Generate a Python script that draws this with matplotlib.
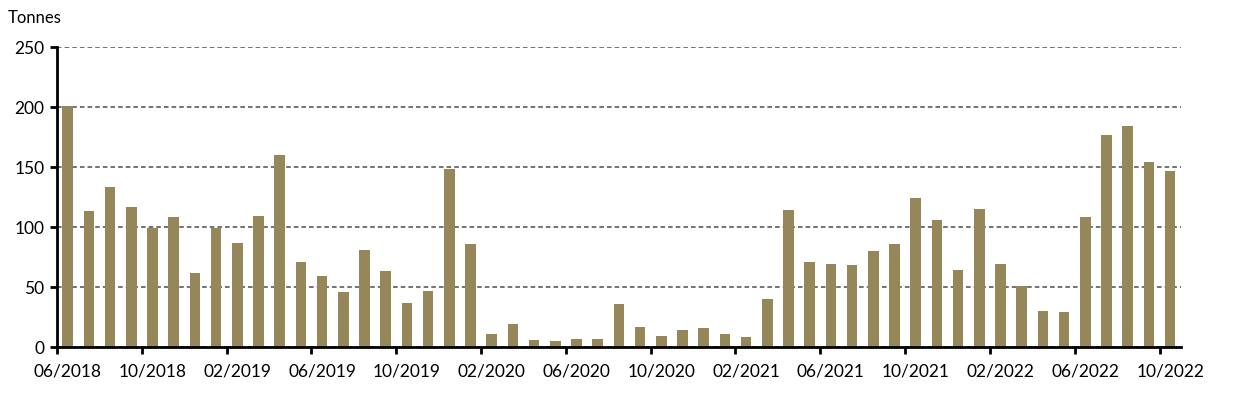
import matplotlib
matplotlib.use('Agg')
import matplotlib.pyplot as plt
import numpy as np

plt.rcParams['font.family'] = ['Lato', 'DejaVu Sans']

# monthly volumes, 06/2018 .. 10/2022
months = ["06/2018", "07/2018", "08/2018", "09/2018", "10/2018", "11/2018", "12/2018",
          "01/2019", "02/2019", "03/2019", "04/2019", "05/2019", "06/2019", "07/2019",
          "08/2019", "09/2019", "10/2019", "11/2019", "12/2019", "01/2020", "02/2020",
          "03/2020", "04/2020", "05/2020", "06/2020", "07/2020", "08/2020", "09/2020",
          "10/2020", "11/2020", "12/2020", "01/2021", "02/2021", "03/2021", "04/2021",
          "05/2021", "06/2021", "07/2021", "08/2021", "09/2021", "10/2021", "11/2021",
          "12/2021", "01/2022", "02/2022", "03/2022", "04/2022", "05/2022", "06/2022",
          "07/2022", "08/2022", "09/2022", "10/2022"]
tonnes = [201, 113, 133, 117, 99, 108, 62, 99, 87, 109, 160, 71, 59, 46, 81, 63, 37,
          47, 148, 86, 11, 19, 6, 5, 7, 7, 36, 17, 9, 14, 16, 11, 8, 40, 114, 71,
          69, 68, 80, 86, 124, 106, 64, 115, 69, 51, 30, 29, 108, 177, 184, 154, 147]
y_ticks = [0, 50, 100, 150, 200, 250]

fig = plt.figure(figsize=(12.43, 4.19), dpi=100)
ax = fig.add_axes([0.0459, 0.1718, 0.904, 0.716])

x = np.arange(len(months))
ax.bar(x, tonnes, width=0.5, color="#96875a", zorder=3)

ax.set_xlim(-0.5, len(months) - 0.5)
ax.set_ylim(0, 250)
ax.set_yticks(y_ticks)
ax.yaxis.grid(True, linestyle=(0, (3, 2)), color="#4d4d4d", linewidth=1.1, zorder=0)

# labels on category centres (major), tick marks on category boundaries (minor)
label_idx = x[::4]
ax.set_xticks(label_idx)
ax.set_xticklabels([months[i] for i in label_idx])
ax.set_xticks(label_idx - 0.5, minor=True)
ax.tick_params(axis="x", which="major", length=0, pad=12, labelsize=12.5)
ax.tick_params(axis="x", which="minor", length=5, width=2, direction="out")
ax.tick_params(axis="y", length=5, width=2, direction="out", labelsize=12.5, pad=4)

for side in ["top", "right"]:
    ax.spines[side].set_visible(False)
ax.spines["left"].set_linewidth(2)
ax.spines["bottom"].set_linewidth(2)
ax.spines["bottom"].set_zorder(4)

fig.text(0.006, 0.957, "Tonnes", fontsize=12, va="center", ha="left")

plt.savefig("out.png", dpi=100)
plt.close()
